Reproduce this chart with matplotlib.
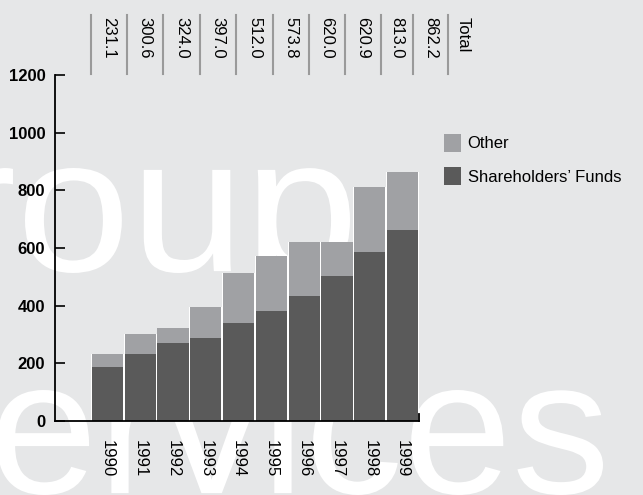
import matplotlib
matplotlib.use('Agg')
import matplotlib.pyplot as plt
from matplotlib.lines import Line2D
from matplotlib.textpath import TextPath
from matplotlib.patches import PathPatch
from matplotlib.font_manager import FontProperties
from matplotlib.transforms import Affine2D

years = ['1990', '1991', '1992', '1993', '1994', '1995', '1996', '1997', '1998', '1999']
shareholders = [188, 233, 272, 289, 341, 380, 432, 502, 585, 662]
totals = [231.1, 300.6, 324.0, 397.0, 512.0, 573.8, 620.0, 620.9, 813.0, 862.2]
other = [t - s for t, s in zip(totals, shareholders)]
y_ticks = [0, 200, 400, 600, 800, 1000, 1200]

W, H = 643, 495
bg = '#e6e7e8'
dark = '#5a5a5a'
light = '#a0a1a4'

plt.rcParams['font.family'] = ['Liberation Sans', 'DejaVu Sans']

fig = plt.figure(figsize=(W / 100, H / 100), dpi=100, facecolor=bg)

# big white watermark words behind the chart, fitted to pixel boxes
fp = FontProperties(family='Liberation Sans')


def tpath(s):
    return TextPath((0, 0), s, size=1, prop=fp)


def place(path, x0, base, sx, sy):
    tr = Affine2D().scale(sx / W, sy / H).translate(x0 / W, (H - base) / H) + fig.transFigure
    fig.add_artist(PathPatch(path, transform=tr, facecolor='white', edgecolor='none', zorder=-1))


# "roup": the 'o' spans y 168..273 and x 25.., the 'p' ends near x 350
p_roup = tpath('roup')
e_roup = p_roup.get_extents()
e_oup = tpath('oup').get_extents()
e_o = tpath('o').get_extents()
sy = (273 - 168) / (e_o.ymax - e_o.ymin)
sx = (350 - 25) / e_oup.width
o_left = e_roup.xmax - e_oup.width
place(p_roup, 25 - sx * o_left, 273 + e_o.ymin * sy, sx, sy)

# "ervices": spans x -3..603, top of the x-height at y 390
p_erv = tpath('ervices')
e_erv = p_erv.get_extents()
e_e = tpath('e').get_extents()
sx2 = (603 + 3) / e_erv.width
place(p_erv, -3 - sx2 * e_erv.xmin, 390 + e_e.ymax * sy, sx2, sy)

ax = fig.add_axes([55 / W, 74 / H, (419 - 55) / W, 346 / H])
ax.patch.set_alpha(0)

x = range(len(years))
# white underlay gives the thin white gaps between bars
ax.bar(x, totals, width=1.0, color='white', zorder=1)
b_sh = ax.bar(x, shareholders, width=0.95, color=dark, zorder=2, label="Shareholders\u2019 Funds")
b_ot = ax.bar(x, other, bottom=shareholders, width=0.95, color=light, zorder=2, label='Other')

ax.set_xlim(-1.597, 9.5)
ax.set_ylim(0, 1200)
ax.set_yticks(y_ticks)
ax.set_xticks(list(x))
ax.set_xticklabels(years, rotation=-90, fontsize=12)

ax.spines['top'].set_visible(False)
ax.spines['right'].set_bounds(0, 25)
for s in ['left', 'bottom', 'right']:
    ax.spines[s].set_linewidth(1.3)

ax.tick_params(axis='y', direction='in', length=7, width=1.2, pad=7, labelsize=12)
for lbl in ax.get_yticklabels():
    lbl.set_fontweight('bold')
ax.tick_params(axis='x', length=0, pad=14)

# totals row on top
sep_x = [91, 127, 163, 200, 236, 273, 309, 345, 381, 413, 448]
for px in sep_x:
    fig.add_artist(Line2D([px / W, px / W], [1 - 15 / H, 1 - 74 / H],
                          transform=fig.transFigure, color='#9a9a9a', lw=1.5))
for i, t in enumerate(totals):
    mid = (sep_x[i] + sep_x[i + 1]) / 2
    fig.text(mid / W, 1 - 17 / H, f'{t:.1f}', rotation=-90, ha='center', va='top', fontsize=12)
fig.text(463 / W, 1 - 17 / H, 'Total', rotation=-90, ha='center', va='top', fontsize=12)

ax.legend(handles=[b_ot, b_sh], loc='upper left', bbox_to_anchor=(444 / W, 1 - 134 / H),
          bbox_transform=fig.transFigure, frameon=False, borderpad=0, borderaxespad=0,
          handlelength=1.0, handleheight=1.25, handletextpad=0.42, labelspacing=0.95,
          fontsize=12)

fig.savefig('out.png', dpi=100, facecolor=bg)
